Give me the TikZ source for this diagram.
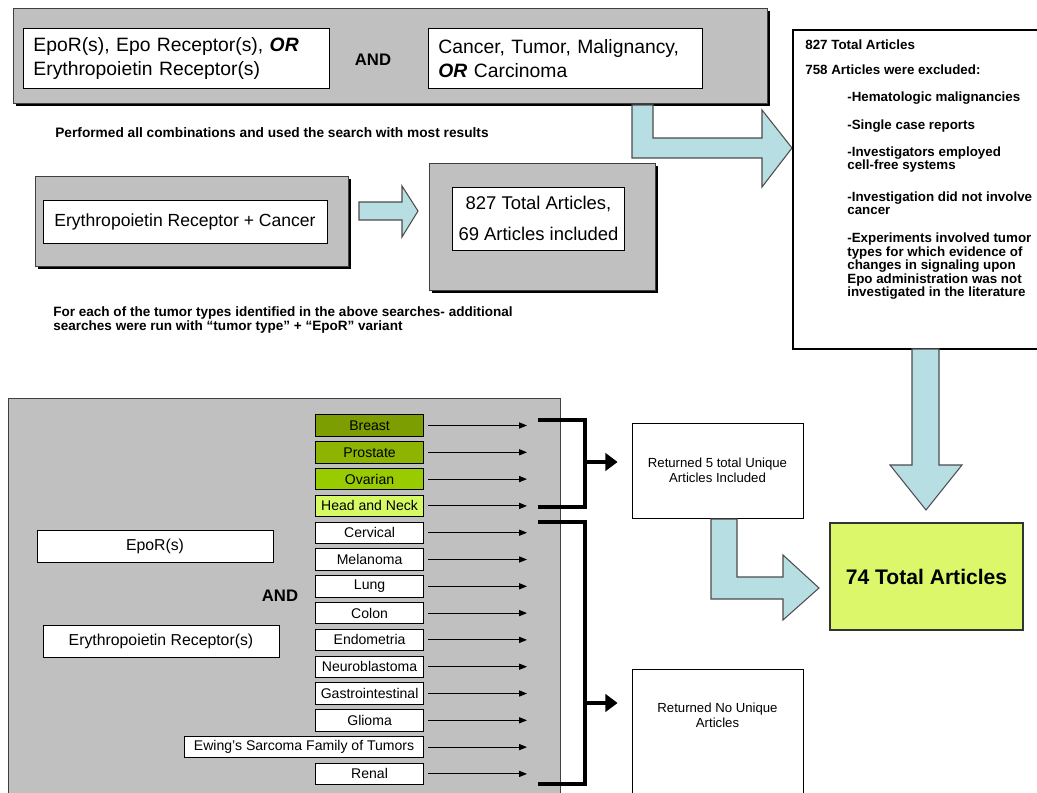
\documentclass[tikz,border=0pt]{standalone}
\usepackage{fontspec}
\setmainfont{Liberation Sans}
\usepackage{xcolor}
\usetikzlibrary{arrows.meta,positioning}

\definecolor{panelgray}{RGB}{192,192,192}
\definecolor{arrowblue}{RGB}{183,222,227}
\definecolor{breastgreen}{RGB}{125,158,0}
\definecolor{prostgreen}{RGB}{140,180,0}
\definecolor{ovargreen}{RGB}{153,204,0}
\definecolor{neckgreen}{RGB}{214,250,100}
\definecolor{totalgreen}{RGB}{220,248,106}

\begin{document}
\begin{tikzpicture}[x=0.02cm, y=-0.02cm,
    panel/.style={draw=black!75, fill=panelgray, line width=0.5pt},
    whitebox/.style={draw=black, fill=white, line width=0.5pt},
    tumorbox/.style={whitebox, anchor=east, minimum height=0.43cm, inner sep=1pt, font=\fontsize{8}{9}\selectfont},
    thinarrow/.style={-{Triangle[length=4.5pt,width=3.5pt]}, line width=0.5pt},
    bracket/.style={line width=2.6pt, line join=miter},
    bigtip/.style={line width=2.6pt, -{Triangle[length=7pt,width=10pt]}},
    blockarrow/.style={fill=arrowblue, draw=black!70, line width=0.6pt, line join=miter},
    notes/.style={font=\fontsize{7.6}{7.7}\selectfont\bfseries, align=left, inner sep=0pt, anchor=west},
  ]
        \useasboundingbox (0,0) rectangle (1037,793);

        % search terms

        \fill[black] (16,11) rectangle (770,106);
        \draw[panel] (13,8) rectangle (767,103);

        \node[whitebox, anchor=north west, minimum width=6.12cm, minimum height=1.2cm, text width=5.72cm, inner xsep=0.2cm, align=left, font=\fontsize{11}{13.5}\selectfont] (eporterms) at (23,28) {EpoR(s), Epo Receptor(s), \textbf{\textit{OR}}\\Erythropoietin Receptor(s)};
        \node[font=\fontsize{9.5}{11}\selectfont\bfseries] (and1) at (373,60) {AND};
        \node[whitebox, anchor=north west, minimum width=5.48cm, minimum height=1.2cm, text width=5.08cm, inner xsep=0.2cm, align=left, font=\fontsize{11}{13.5}\selectfont] (cancerterms) at (428,28) {Cancer, Tumor, Malignancy,\\\textbf{\textit{OR}} Carcinoma};

        \filldraw[blockarrow] (632,105) -- (653,105) -- (653,138) -- (762,138) -- (762,110) -- (792,148) -- (762,187) -- (762,158) -- (632,158) -- cycle;

        \node[anchor=west, inner sep=0pt, font=\fontsize{7.8}{8}\selectfont\bfseries] (combos) at (55,133) {Performed all combinations and used the search with most results};

        % best search

        \fill[black] (38,179) rectangle (351,269);
        \draw[panel] (35,176) rectangle (348,266);
        \node[whitebox, minimum width=5.68cm, minimum height=0.86cm, font=\fontsize{10}{12}\selectfont] (query) at (185,221.5) {Erythropoietin Receptor + Cancer};

        \filldraw[blockarrow] (359,202) -- (402,202) -- (402,186) -- (418,211) -- (402,237) -- (402,220) -- (359,220) -- cycle;

        \fill[black] (432,166) rectangle (658,293);
        \draw[panel] (429,163) rectangle (655,290);
        \node[whitebox, minimum width=3.38cm, minimum height=1.26cm, align=center, font=\fontsize{10.5}{18}\selectfont] (firstcount) at (538.5,218.5) {827 Total Articles,\\69 Articles included};

        \node[anchor=west, inner sep=0pt, align=left, font=\fontsize{7.7}{8}\selectfont\bfseries] (pertumor) at (53,320) {For each of the tumor types identified in the above searches- additional\\searches were run with ``tumor type'' + ``EpoR'' variant};

        % exclusions

        \node[draw, line width=1.2pt, anchor=north west, minimum width=5.06cm, minimum height=6.38cm] (excl) at (792,29) {};
        \node[notes] (ex1) at (805,45) {827 Total Articles};
        \node[notes] (ex2) at (805,70) {758 Articles were excluded:};
        \node[notes] (ex3) at (847,98) {-Hematologic malignancies};
        \node[notes] (ex4) at (847,126) {-Single case reports};
        \node[notes] (ex5) at (847,159.5) {-Investigators employed\\cell-free systems};
        \node[notes] (ex6) at (847,203) {-Investigation did not involve\\cancer};
        \node[notes] (ex7) at (847,266.5) {-Experiments involved tumor\\types for which evidence of\\changes in signaling upon\\Epo administration was not\\investigated in the literature};

        \filldraw[blockarrow] (912,349) -- (939,349) -- (939,465) -- (962,465) -- (926,510) -- (890,465) -- (912,465) -- cycle;

        % tumor type searches

        \draw[panel] (8,398) rectangle (560,820);

        \node[whitebox, minimum width=4.72cm, minimum height=0.64cm, font=\fontsize{9}{11}\selectfont] (epor) at (155,546) {EpoR(s)};
        \node[font=\fontsize{9.5}{11}\selectfont\bfseries] (and2) at (280,596) {AND};
        \node[whitebox, minimum width=4.72cm, minimum height=0.64cm, font=\fontsize{9}{11}\selectfont] (eporfull) at (161,641) {Erythropoietin Receptor(s)};

        \coordinate (tipx) at (527,0);
        \foreach \lbl/\col/\boxw [count=\i from 0] in {Breast/breastgreen/2.16cm, Prostate/prostgreen/2.16cm, Ovarian/ovargreen/2.16cm, Head and Neck/neckgreen/2.16cm, Cervical/white/2.16cm, Melanoma/white/2.16cm, Lung/white/2.16cm, Colon/white/2.16cm, Endometria/white/2.16cm, Neuroblastoma/white/2.16cm, Gastrointestinal/white/2.16cm, Glioma/white/2.16cm, Ewing's Sarcoma Family of Tumors/white/4.78cm, Renal/white/2.16cm}
        {
            \node[tumorbox, fill=\col, minimum width=\boxw] (t\i) at (424, {425.5+26.8*\i}) {\lbl};
            \draw[thinarrow] ([xshift=0.08cm]t\i.east) -- (t\i.east -| tipx);
        }

        % brackets

        \coordinate (b1top) at (538,420);
        \coordinate (b1bot) at (538,507);
        \coordinate (b1mid) at (585,462);
        \coordinate (b2top) at (538,522);
        \coordinate (b2bot) at (538,784);
        \coordinate (b2mid) at (585,703);

        \draw[bracket] (b1top) -- (b1top -| b1mid) -- (b1bot -| b1mid) -- (b1bot);
        \draw[bracket] (b2top) -- (b2top -| b2mid) -- (b2bot -| b2mid) -- (b2bot);

        % results

        \node[whitebox, minimum width=3.42cm, minimum height=1.9cm, align=center, font=\fontsize{7.5}{8.5}\selectfont] (ret5) at (717.5,470.5) {Returned 5 total Unique\\Articles Included};
        \node[whitebox, anchor=north, minimum width=3.42cm, minimum height=3cm] (ret0) at (717.5,669) {};
        \node[align=center, inner sep=0pt, font=\fontsize{7.5}{8.5}\selectfont] (ret0text) at ([yshift=-0.93cm]ret0.north) {Returned No Unique\\Articles};

        \draw[bigtip, shorten >=0.28cm] (b1mid) -- (b1mid -| ret5.west);
        \draw[bigtip, shorten >=0.28cm] (b2mid) -- (b2mid -| ret0.west);

        \filldraw[blockarrow] (711,519) -- (737,519) -- (737,577) -- (783,577) -- (783,555) -- (819,588) -- (783,620) -- (783,599) -- (711,599) -- cycle;

        \node[draw=black!80, line width=1pt, fill=totalgreen, minimum width=3.86cm, minimum height=2.14cm, font=\fontsize{12}{14}\selectfont\bfseries] (total) at (926.5,576.5) {74 Total Articles};

    \end{tikzpicture}
\end{document}
